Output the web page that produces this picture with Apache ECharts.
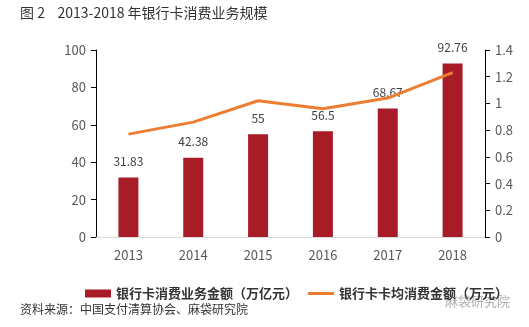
<!DOCTYPE html>
<html><head><meta charset="utf-8">
<script src="https://cdn.jsdelivr.net/npm/echarts@6/dist/echarts.min.js"></script>
<style>html,body{margin:0;padding:0;background:#fff}#c{width:529px;height:327px}</style>
</head><body><div id="c"></div>
<script>
var categories = ['2013','2014','2015','2016','2017','2018'];
var amount = [31.83, 42.38, 55, 56.5, 68.67, 92.76];
var perCard = [0.77, 0.86, 1.02, 0.96, 1.04, 1.23];
var leftTicks = [0, 20, 40, 60, 80, 100];
var rightTicks = [0, 0.2, 0.4, 0.6, 0.8, 1, 1.2, 1.4];
var seriesNames = ['银行卡消费业务金额（万亿元）', '银行卡卡均消费金额（万元）'];
var titleText = '图 2    2013-2018 年银行卡消费业务规模';
var sourceText = '资料来源：中国支付清算协会、麻袋研究院';

var font = '"Noto Sans CJK SC", "Open Sans", sans-serif';
var chart = echarts.init(document.getElementById('c'));
chart.setOption({
  animation: false,
  textStyle: {fontFamily: font},
  grid: {left: 96, right: 44, top: 50, bottom: 90},
  graphic: [
    {type: 'text', left: 20, top: 6, style: {text: titleText, fontSize: 14, fill: '#333', fontFamily: font}},
    {type: 'text', left: 20, top: 303, style: {text: sourceText, fontSize: 12, fill: '#333', fontFamily: font}},
    {type: 'text', left: 445, top: 295, style: {text: '麻袋研究院', fontSize: 13, fill: '#b0b0b0', fontFamily: font}}
  ],
  legend: {
    bottom: 22, left: 80,
    itemGap: 10, itemWidth: 26, itemHeight: 8,
    textStyle: {fontSize: 13, fontWeight: 'bold', color: '#333', fontFamily: font},
    data: [
      {name: seriesNames[0], icon: 'rect'},
      {name: seriesNames[1], icon: 'path://M0,0 L26,0 L26,3 L0,3 Z'}
    ]
  },
  xAxis: {
    type: 'category', data: categories,
    axisLine: {lineStyle: {color: '#d9d9d9'}},
    axisTick: {show: false},
    axisLabel: {color: '#595959', fontSize: 13, margin: 12}
  },
  yAxis: [
    {type: 'value', min: 0, max: 100, interval: 20,
     axisLine: {show: true, lineStyle: {color: '#000'}},
     axisTick: {show: true, length: 5, lineStyle: {color: '#000'}},
     splitLine: {show: false},
     axisLabel: {color: '#595959', fontSize: 13, margin: 10,
       formatter: function(v){ return leftTicks.indexOf(v) >= 0 ? String(v) : ''; }}},
    {type: 'value', min: 0, max: 1.4, interval: 0.2,
     axisLine: {show: true, lineStyle: {color: '#000'}},
     axisTick: {show: true, length: 5, lineStyle: {color: '#000'}},
     splitLine: {show: false},
     axisLabel: {color: '#595959', fontSize: 13, margin: 10,
       formatter: function(v){ var r = Math.round(v*10)/10; return rightTicks.indexOf(r) >= 0 ? String(r) : ''; }}}
  ],
  series: [
    {name: seriesNames[0], type: 'bar', data: amount, barWidth: 20,
     itemStyle: {color: '#a81c28'},
     label: {show: true, position: 'top', distance: 10, color: '#404040', fontSize: 12}},
    {name: seriesNames[1], type: 'line', yAxisIndex: 1, data: perCard,
     symbol: 'none', lineStyle: {color: '#ed7d31', width: 3},
     itemStyle: {color: '#ed7d31'}}
  ]
});
</script></body></html>
